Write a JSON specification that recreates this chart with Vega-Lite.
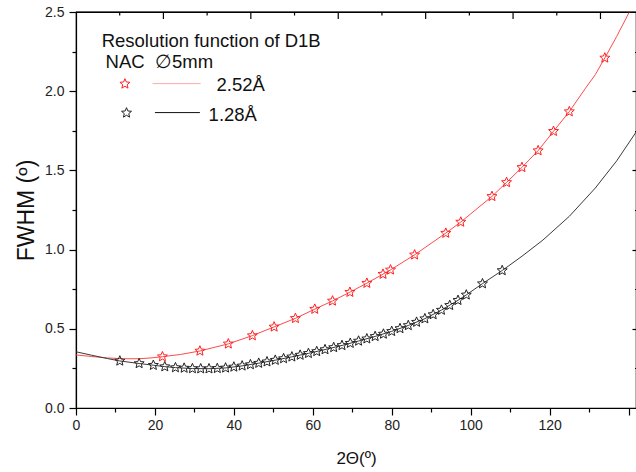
{
  "$schema": "https://vega.github.io/schema/vega-lite/v6.json",
  "width": 560,
  "height": 396,
  "autosize": {"type": "none"},
  "padding": {"left": 76, "top": 12, "right": 0, "bottom": 64},
  "background": "white",
  "config": {
    "view": {"stroke": "#000", "strokeWidth": 1.2},
    "font": "Liberation Sans",
    "axis": {"grid": false, "domainColor": "#000", "tickColor": "#000", "labelColor": "#222", "titleColor": "#111", "labelFont": "Liberation Sans", "titleFont": "Liberation Sans", "titleFontWeight": "normal", "domainWidth": 1.2, "tickWidth": 1.2}
  },
  "datasets": {
    "red": [
      {"x": 21.9, "y": 0.324}, {"x": 31.4, "y": 0.360}, {"x": 38.6, "y": 0.405}, {"x": 44.7, "y": 0.457},
      {"x": 50.2, "y": 0.512}, {"x": 55.6, "y": 0.566}, {"x": 60.5, "y": 0.624}, {"x": 65.0, "y": 0.676},
      {"x": 69.4, "y": 0.731}, {"x": 73.7, "y": 0.788}, {"x": 77.8, "y": 0.845}, {"x": 79.7, "y": 0.872},
      {"x": 85.8, "y": 0.967}, {"x": 93.7, "y": 1.104}, {"x": 97.5, "y": 1.174}, {"x": 105.4, "y": 1.336},
      {"x": 109.1, "y": 1.424}, {"x": 113.0, "y": 1.519}, {"x": 117.1, "y": 1.625}, {"x": 121.0, "y": 1.747},
      {"x": 125.0, "y": 1.871}, {"x": 134.0, "y": 2.21}
    ],
    "redfit": [
      {"x": 0, "y": 0.335}, {"x": 4, "y": 0.325}, {"x": 8, "y": 0.316}, {"x": 12, "y": 0.311},
      {"x": 16, "y": 0.311}, {"x": 19, "y": 0.316}, {"x": 21.9, "y": 0.324}, {"x": 26.5, "y": 0.338},
      {"x": 31.4, "y": 0.360}, {"x": 38.6, "y": 0.405}, {"x": 44.7, "y": 0.457}, {"x": 50.2, "y": 0.512},
      {"x": 55.6, "y": 0.566}, {"x": 60.5, "y": 0.624}, {"x": 65.0, "y": 0.676}, {"x": 69.4, "y": 0.731},
      {"x": 73.7, "y": 0.788}, {"x": 77.8, "y": 0.845}, {"x": 79.7, "y": 0.872}, {"x": 85.8, "y": 0.967},
      {"x": 93.7, "y": 1.104}, {"x": 97.5, "y": 1.174}, {"x": 105.4, "y": 1.336}, {"x": 109.1, "y": 1.424},
      {"x": 113.0, "y": 1.519}, {"x": 117.1, "y": 1.625}, {"x": 121.0, "y": 1.747}, {"x": 125.0, "y": 1.871},
      {"x": 129.0, "y": 2.015}, {"x": 131.6, "y": 2.105}, {"x": 134.0, "y": 2.21}, {"x": 137.0, "y": 2.345},
      {"x": 140.1, "y": 2.495}, {"x": 142.0, "y": 2.59}
    ],
    "black": [
      {"x": 11.1, "y": 0.297}, {"x": 16.0, "y": 0.281}, {"x": 19.6, "y": 0.270}, {"x": 22.5, "y": 0.261},
      {"x": 25.2, "y": 0.255}, {"x": 27.4, "y": 0.252}, {"x": 29.5, "y": 0.249}, {"x": 31.6, "y": 0.248},
      {"x": 33.7, "y": 0.248}, {"x": 35.8, "y": 0.250}, {"x": 37.9, "y": 0.253}, {"x": 40.0, "y": 0.259},
      {"x": 42.1, "y": 0.266}, {"x": 44.2, "y": 0.274}, {"x": 46.3, "y": 0.283}, {"x": 48.4, "y": 0.292},
      {"x": 50.5, "y": 0.302}, {"x": 52.6, "y": 0.312}, {"x": 54.7, "y": 0.323}, {"x": 56.8, "y": 0.334},
      {"x": 58.9, "y": 0.345}, {"x": 61.0, "y": 0.357}, {"x": 63.1, "y": 0.369}, {"x": 65.3, "y": 0.382},
      {"x": 67.4, "y": 0.395}, {"x": 69.5, "y": 0.409}, {"x": 71.6, "y": 0.423}, {"x": 73.7, "y": 0.437},
      {"x": 75.8, "y": 0.452}, {"x": 77.9, "y": 0.467}, {"x": 80.0, "y": 0.484}, {"x": 82.1, "y": 0.502},
      {"x": 84.2, "y": 0.521}, {"x": 86.3, "y": 0.542}, {"x": 88.4, "y": 0.564}, {"x": 90.5, "y": 0.590},
      {"x": 92.6, "y": 0.618}, {"x": 94.7, "y": 0.648}, {"x": 96.8, "y": 0.680}, {"x": 98.9, "y": 0.714},
      {"x": 103.0, "y": 0.785}, {"x": 108.0, "y": 0.868}
    ],
    "blackfit": [
      {"x": 0, "y": 0.355}, {"x": 4, "y": 0.333}, {"x": 8, "y": 0.312}, {"x": 11.1, "y": 0.297},
      {"x": 16.0, "y": 0.281}, {"x": 19.6, "y": 0.270}, {"x": 22.5, "y": 0.261}, {"x": 25.2, "y": 0.255},
      {"x": 29.5, "y": 0.249}, {"x": 33.7, "y": 0.248}, {"x": 37.9, "y": 0.253}, {"x": 42.1, "y": 0.266},
      {"x": 46.3, "y": 0.283}, {"x": 50.5, "y": 0.302}, {"x": 54.7, "y": 0.323}, {"x": 58.9, "y": 0.345},
      {"x": 63.1, "y": 0.369}, {"x": 67.4, "y": 0.395}, {"x": 71.6, "y": 0.423}, {"x": 75.8, "y": 0.452},
      {"x": 80.0, "y": 0.484}, {"x": 84.2, "y": 0.521}, {"x": 88.4, "y": 0.564}, {"x": 92.6, "y": 0.618},
      {"x": 96.8, "y": 0.680}, {"x": 98.9, "y": 0.714}, {"x": 103.0, "y": 0.785}, {"x": 108.0, "y": 0.868},
      {"x": 113.0, "y": 0.958}, {"x": 118.3, "y": 1.06}, {"x": 125.0, "y": 1.21}, {"x": 131.6, "y": 1.389},
      {"x": 137.0, "y": 1.56}, {"x": 142.0, "y": 1.745}
    ],
    "keys": [
      {"s": "a", "x": 12.4, "y": 2.046, "x1": 19.4, "x2": 31.6, "y1": 2.048},
      {"s": "b", "x": 12.8, "y": 1.863, "x1": 20.0, "x2": 31.4, "y1": 1.865}
    ],
    "notes": [
      {"t": "Resolution function of D1B", "x": 6.5, "y": 2.28},
      {"t": "NAC\u00a0\u00a0∅5mm", "x": 7.5, "y": 2.147},
      {"t": "2.52Å", "x": 35.6, "y": 2.0},
      {"t": "1.28Å", "x": 33.6, "y": 1.81}
    ],
    "topticks": [
      {"x": 11.075, "k": "minor"}, {"x": 22.15, "k": "major"}, {"x": 33.225, "k": "minor"}, {"x": 44.3, "k": "major"},
      {"x": 55.375, "k": "minor"}, {"x": 66.45, "k": "major"}, {"x": 77.525, "k": "minor"}, {"x": 88.6, "k": "major"},
      {"x": 99.675, "k": "minor"}, {"x": 110.75, "k": "major"}, {"x": 121.825, "k": "minor"}, {"x": 132.9, "k": "major"}
    ]
  },
  "resolve": {"axis": {"x": "independent", "y": "independent"}},
  "layer": [
    {
      "data": {"name": "redfit"},
      "mark": {"type": "line", "stroke": "#ff4a4a", "strokeWidth": 1, "clip": true},
      "encoding": {
        "x": {"field": "x", "type": "quantitative", "scale": {"domain": [0, 141.9], "nice": false, "zero": false}, "axis": null},
        "y": {"field": "y", "type": "quantitative", "scale": {"domain": [0, 2.5], "nice": false, "zero": false},
          "axis": {"orient": "left", "title": "FWHM (º)", "titleFontSize": 23, "titlePadding": 6,
            "values": [0, 0.25, 0.5, 0.75, 1, 1.25, 1.5, 1.75, 2, 2.25, 2.5],
            "labelExpr": "(abs(datum.value * 2 - round(datum.value * 2)) < 0.001) ? format(datum.value, '.1f') : ''",
            "labelFontSize": 14, "labelPadding": 5, "labelFlush": false,
            "tickSize": {"condition": {"test": "abs(datum.value * 2 - round(datum.value * 2)) < 0.001", "value": 7}, "value": 4}}}
      }
    },
    {
      "data": {"name": "blackfit"},
      "mark": {"type": "line", "stroke": "#3a3a3a", "strokeWidth": 1, "clip": true},
      "encoding": {
        "x": {"field": "x", "type": "quantitative",
          "axis": {"orient": "bottom", "title": "2Θ(º)", "titleFontSize": 17, "titlePadding": 18,
            "values": [0, 10, 20, 30, 40, 50, 60, 70, 80, 90, 100, 110, 120, 130, 140],
            "labelExpr": "(datum.value % 20 === 0 && datum.value <= 120) ? datum.label : ''",
            "labelFontSize": 14, "labelPadding": 3, "labelFlush": false,
            "tickSize": {"condition": {"test": "datum.value % 20 === 0", "value": 7}, "value": 4}}},
        "y": {"field": "y", "type": "quantitative",
          "axis": {"orient": "right", "title": null, "labels": false, "domain": false,
            "values": [0.25, 0.5, 0.75, 1, 1.25, 1.5, 1.75, 2, 2.25],
            "tickSize": {"condition": {"test": "abs(datum.value * 2 - round(datum.value * 2)) < 0.001", "value": -4}, "value": -1.5}}}
      }
    },
    {
      "data": {"values": [{}]},
      "mark": {"type": "rule", "stroke": "#000", "strokeWidth": 1.2},
      "encoding": {
        "x": {"datum": 0, "type": "quantitative", "axis": null},
        "x2": {"datum": 141.9},
        "y": {"datum": 2.5, "type": "quantitative", "axis": null}
      }
    },
    {
      "data": {"name": "topticks"},
      "transform": [{"filter": "datum.k === 'major'"}],
      "mark": {"type": "rule", "stroke": "#000", "strokeWidth": 1.2},
      "encoding": {
        "x": {"field": "x", "type": "quantitative", "axis": null},
        "y": {"datum": 2.5, "type": "quantitative", "axis": null},
        "y2": {"datum": 2.4558}
      }
    },
    {
      "data": {"name": "topticks"},
      "transform": [{"filter": "datum.k === 'minor'"}],
      "mark": {"type": "rule", "stroke": "#000", "strokeWidth": 1.2},
      "encoding": {
        "x": {"field": "x", "type": "quantitative", "axis": null},
        "y": {"datum": 2.5, "type": "quantitative", "axis": null},
        "y2": {"datum": 2.4779}
      }
    },
    {
      "data": {"name": "red"},
      "mark": {"type": "point", "shape": "M0,-1L0.265,-0.364L0.951,-0.309L0.428,0.139L0.588,0.809L0,0.45L-0.588,0.809L-0.428,0.139L-0.951,-0.309L-0.265,-0.364Z", "size": 110, "filled": false, "stroke": "#ff2020", "strokeWidth": 1, "opacity": 1},
      "encoding": {
        "x": {"field": "x", "type": "quantitative", "axis": null},
        "y": {"field": "y", "type": "quantitative", "axis": null}
      }
    },
    {
      "data": {"name": "black"},
      "mark": {"type": "point", "shape": "M0,-1L0.265,-0.364L0.951,-0.309L0.428,0.139L0.588,0.809L0,0.45L-0.588,0.809L-0.428,0.139L-0.951,-0.309L-0.265,-0.364Z", "size": 110, "filled": false, "stroke": "#222", "strokeWidth": 1, "opacity": 1},
      "encoding": {
        "x": {"field": "x", "type": "quantitative", "axis": null},
        "y": {"field": "y", "type": "quantitative", "axis": null}
      }
    },
    {
      "data": {"name": "keys"},
      "transform": [{"filter": "datum.s === 'a'"}],
      "mark": {"type": "rule", "stroke": "#ffaaaa", "strokeWidth": 1},
      "encoding": {
        "x": {"field": "x1", "type": "quantitative", "axis": null},
        "x2": {"field": "x2"},
        "y": {"field": "y1", "type": "quantitative", "axis": null}
      }
    },
    {
      "data": {"name": "keys"},
      "transform": [{"filter": "datum.s === 'b'"}],
      "mark": {"type": "rule", "stroke": "#111", "strokeWidth": 1},
      "encoding": {
        "x": {"field": "x1", "type": "quantitative", "axis": null},
        "x2": {"field": "x2"},
        "y": {"field": "y1", "type": "quantitative", "axis": null}
      }
    },
    {
      "data": {"name": "keys"},
      "transform": [{"filter": "datum.s === 'a'"}],
      "mark": {"type": "point", "shape": "M0,-1L0.265,-0.364L0.951,-0.309L0.428,0.139L0.588,0.809L0,0.45L-0.588,0.809L-0.428,0.139L-0.951,-0.309L-0.265,-0.364Z", "size": 110, "filled": false, "stroke": "#ff2020", "strokeWidth": 1, "opacity": 1},
      "encoding": {
        "x": {"field": "x", "type": "quantitative", "axis": null},
        "y": {"field": "y", "type": "quantitative", "axis": null}
      }
    },
    {
      "data": {"name": "keys"},
      "transform": [{"filter": "datum.s === 'b'"}],
      "mark": {"type": "point", "shape": "M0,-1L0.265,-0.364L0.951,-0.309L0.428,0.139L0.588,0.809L0,0.45L-0.588,0.809L-0.428,0.139L-0.951,-0.309L-0.265,-0.364Z", "size": 110, "filled": false, "stroke": "#222", "strokeWidth": 1, "opacity": 1},
      "encoding": {
        "x": {"field": "x", "type": "quantitative", "axis": null},
        "y": {"field": "y", "type": "quantitative", "axis": null}
      }
    },
    {
      "data": {"name": "notes"},
      "mark": {"type": "text", "align": "left", "baseline": "alphabetic", "fontSize": 18.5, "font": "Liberation Sans", "color": "#111"},
      "encoding": {
        "x": {"field": "x", "type": "quantitative", "axis": null},
        "y": {"field": "y", "type": "quantitative", "axis": null},
        "text": {"field": "t"}
      }
    }
  ]
}
